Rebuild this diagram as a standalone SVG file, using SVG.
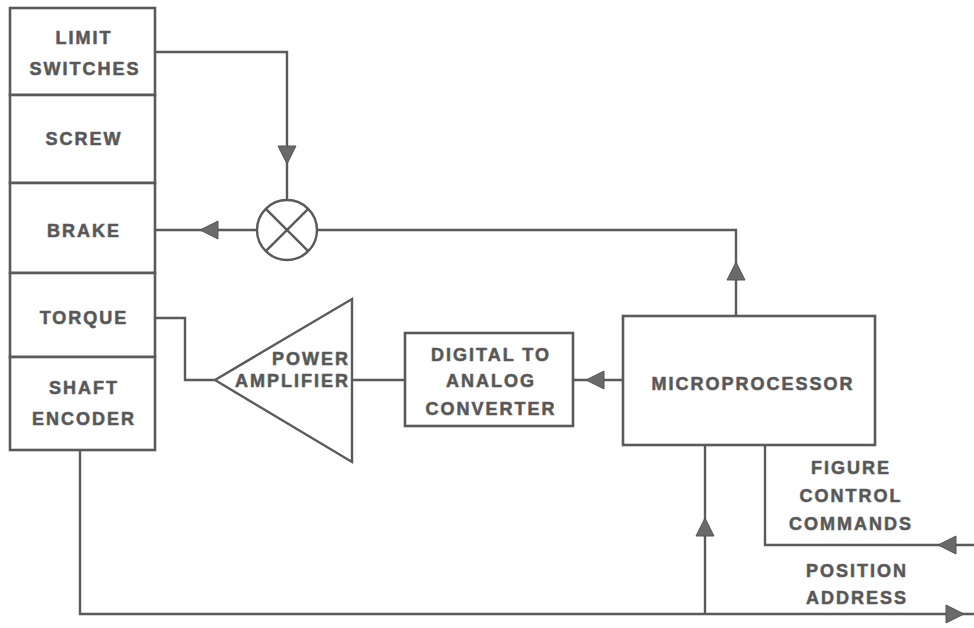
<svg xmlns="http://www.w3.org/2000/svg" width="974" height="628" viewBox="0 0 974 628">
<style>
.ln{fill:none;stroke:#5a5a5a;stroke-width:2.4;stroke-linejoin:miter}
.bx{fill:#fff;stroke:#5a5a5a;stroke-width:2.6}
.t{font-family:"Liberation Sans",Arial,sans-serif;font-weight:bold;font-size:18px;letter-spacing:2px;fill:#555;stroke:#666;stroke-width:0.6;text-anchor:middle}
.tr{text-anchor:end}
.ah{fill:#6a6a6a;stroke:#555;stroke-width:1}
</style>
<defs>
<path id="arr" d="M0,0 L-18,-9 L-18,9 Z"/>
</defs>
<rect width="974" height="628" fill="#fff"/>
<g id="connectors">
<polyline class="ln" points="155,52 287,52 287,200"/>
<line class="ln" x1="155" y1="230" x2="257" y2="230"/>
<polyline class="ln" points="317,230 736,230 736,316"/>
<polyline class="ln" points="155,318 185,318 185,380 215,380"/>
<line class="ln" x1="352" y1="380" x2="405" y2="380"/>
<line class="ln" x1="573" y1="380" x2="623" y2="380"/>
<polyline class="ln" points="80,450 80,614 974,614"/>
<line class="ln" x1="705" y1="614" x2="705" y2="445"/>
<polyline class="ln" points="765,445 765,545 974,545"/>
<use href="#arr" class="ah" transform="translate(287,164) rotate(90)"/>
<use href="#arr" class="ah" transform="translate(200,230) rotate(180)"/>
<use href="#arr" class="ah" transform="translate(736,262) rotate(-90)"/>
<use href="#arr" class="ah" transform="translate(586,380) rotate(180)"/>
<use href="#arr" class="ah" transform="translate(705,518) rotate(-90)"/>
<use href="#arr" class="ah" transform="translate(938,545) rotate(180)"/>
<use href="#arr" class="ah" transform="translate(964,614)"/>
</g>
<g id="limit-switches">
<rect class="bx" x="10" y="8" width="145" height="87"/>
<text class="t" x="84" y="44">LIMIT</text>
<text class="t" x="85" y="75">SWITCHES</text>
</g>
<g id="screw">
<rect class="bx" x="10" y="95" width="145" height="88"/>
<text class="t" x="84" y="145">SCREW</text>
</g>
<g id="brake">
<rect class="bx" x="10" y="183" width="145" height="90"/>
<text class="t" x="84" y="237">BRAKE</text>
</g>
<g id="torque">
<rect class="bx" x="10" y="273" width="145" height="84"/>
<text class="t" x="84" y="324">TORQUE</text>
</g>
<g id="shaft-encoder">
<rect class="bx" x="10" y="357" width="145" height="93"/>
<text class="t" x="84" y="394">SHAFT</text>
<text class="t" x="84" y="425">ENCODER</text>
</g>
<g id="summing-junction">
<circle class="ln" cx="287" cy="230" r="30"/>
<line class="ln" x1="265.8" y1="208.8" x2="308.2" y2="251.2"/>
<line class="ln" x1="308.2" y1="208.8" x2="265.8" y2="251.2"/>
</g>
<g id="power-amplifier">
<polygon class="ln" points="215,380 352,299 352,462"/>
<text class="t tr" x="350" y="365">POWER</text>
<text class="t tr" x="350" y="387">AMPLIFIER</text>
</g>
<g id="dac">
<rect class="bx" x="405" y="333" width="168" height="93"/>
<text class="t" x="491" y="361">DIGITAL TO</text>
<text class="t" x="491" y="387">ANALOG</text>
<text class="t" x="491" y="415">CONVERTER</text>
</g>
<g id="microprocessor">
<rect class="bx" x="623" y="316" width="252" height="129"/>
<text class="t" x="753" y="390">MICROPROCESSOR</text>
</g>
<g id="labels">
<text class="t" x="851" y="474">FIGURE</text>
<text class="t" x="851" y="502">CONTROL</text>
<text class="t" x="851" y="530">COMMANDS</text>
<text class="t" x="857" y="577">POSITION</text>
<text class="t" x="857" y="604">ADDRESS</text>
</g>
</svg>
